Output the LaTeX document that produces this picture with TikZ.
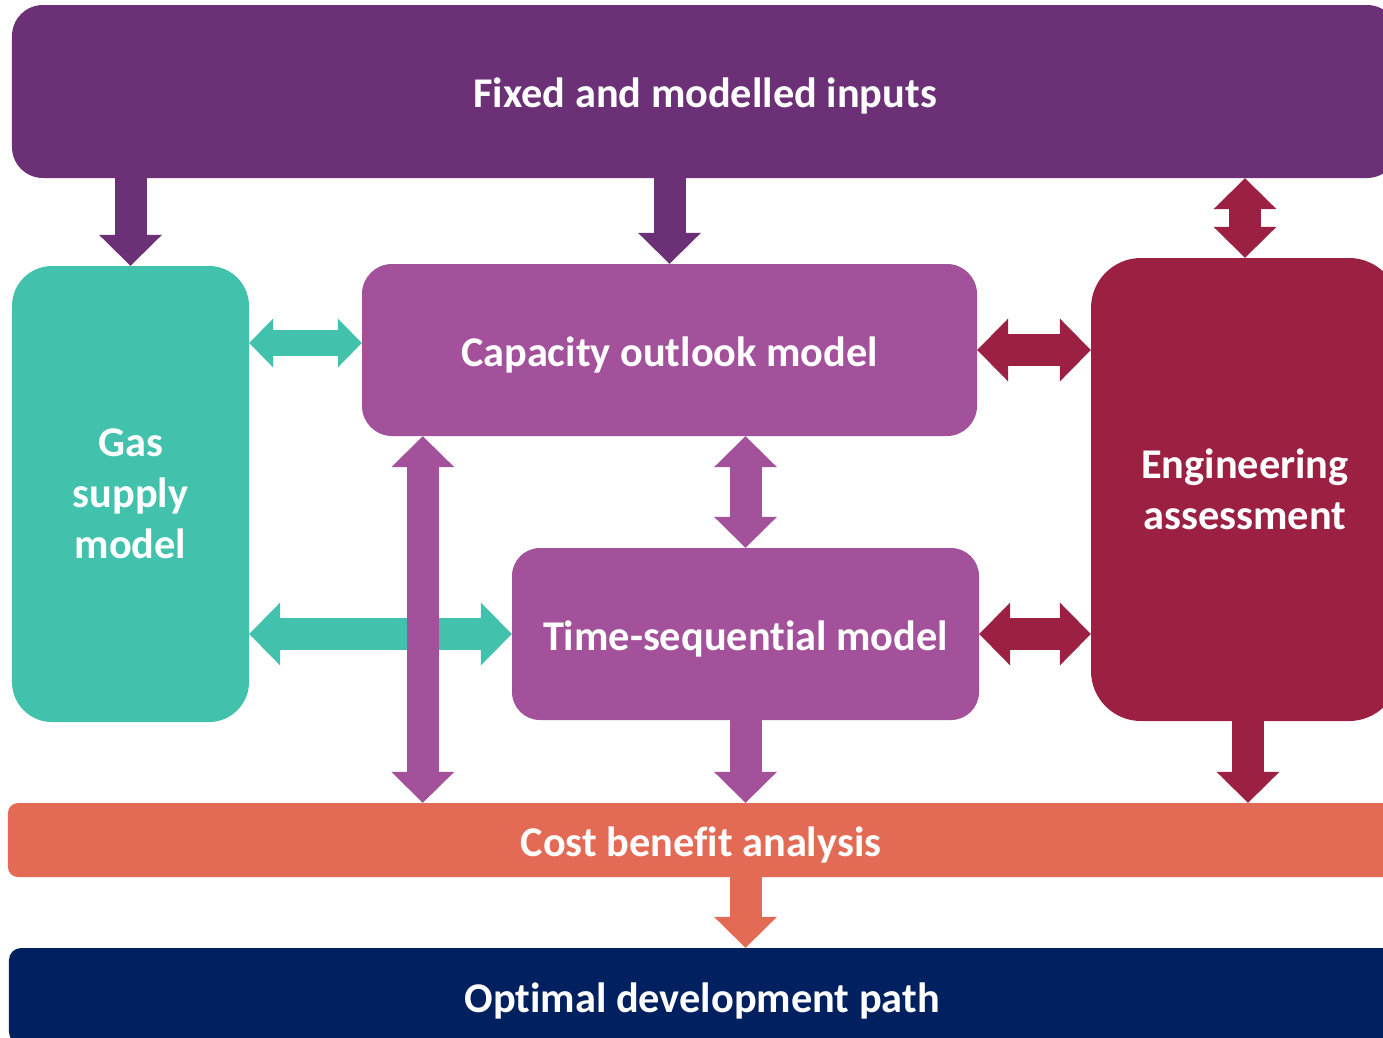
\documentclass[tikz,border=0pt]{standalone}
\usepackage{fontspec}
\setmainfont{Carlito}[Ligatures=CommonOff,Contextuals=AlternateOff]
\usetikzlibrary{arrows.meta}

\definecolor{inputpurple}{RGB}{107,48,118}
\definecolor{modelpurple}{RGB}{163,81,154}
\definecolor{gasteal}{RGB}{66,194,172}
\definecolor{engred}{RGB}{155,32,66}
\definecolor{cbaorange}{RGB}{227,106,84}
\definecolor{optnavy}{RGB}{0,32,96}

\begin{document}
\begin{tikzpicture}[x=1bp,y=-1bp,
		block/.style={rectangle,inner sep=0pt,text=white,align=center,font=\bfseries\fontsize{42.5}{51}\selectfont},
		oneline/.style={text height=40bp,text depth=8bp},
		fat/.style={line width=32bp,-{Triangle[length=31bp,width=63bp,line width=0pt]}},
		fatboth/.style={line width=32bp,{Triangle[length=31bp,width=63bp,line width=0pt]}-{Triangle[length=31bp,width=63bp,line width=0pt]}},
		slimboth/.style={line width=26bp,{Triangle[length=24bp,width=49bp,line width=0pt]}-{Triangle[length=24bp,width=49bp,line width=0pt]}}]
			\clip (0,0) rectangle (1383,1037);
			%\draw[step=100,gray,very thin] (0,0) grid (1383,1037);
			
			\node[block,oneline,fill=inputpurple,rounded corners=31bp,minimum width=1386bp,minimum height=173bp] (inputs) at (705,91.5) {Fixed and modelled inputs};
			\node[block,fill=gasteal,rounded corners=40bp,minimum width=237bp,minimum height=456bp] (gas) at (130.5,494) {Gas\\supply\\model};
			\node[block,oneline,fill=modelpurple,rounded corners=30bp,minimum width=615bp,minimum height=172bp] (cap) at (669.5,350) {Capacity outlook model};
			\node[block,oneline,fill=modelpurple,rounded corners=28bp,minimum width=467bp,minimum height=172bp] (time) at (745.5,634) {Time-sequential model};
			\node[block,fill=engred,rounded corners=50bp,minimum width=308bp,minimum height=463bp] (eng) at (1245,489.5) {Engineering\\assessment};
			\node[block,oneline,fill=cbaorange,rounded corners=10bp,minimum width=1386bp,minimum height=74bp] (cba) at (701,840) {Cost benefit analysis};
			\node[block,oneline,fill=optnavy,rounded corners=12bp,minimum width=1386bp,minimum height=96bp] (opt) at (702,996) {Optimal development path};
			
			\coordinate (capleft) at ([yshift=7bp]cap.west);
			\coordinate (capfoot) at ([xshift=61bp]cap.south west);
			\coordinate (engfoot) at ([xshift=3bp]eng.south);
			
			% inputs
			\draw[fat,inputpurple] (gas.north |- inputs.south) -- (gas.north);
			\draw[fat,inputpurple] (cap.north |- inputs.south) -- (cap.north);
			\draw[fatboth,engred] (eng.north |- inputs.south) -- (eng.north);
			
			% models
			\draw[slimboth,gasteal] (gas.east |- capleft) -- (capleft);
			\draw[fatboth,gasteal] (gas.east |- time.west) -- (time.west);
			\draw[fatboth,modelpurple] (capfoot) -- (capfoot |- cba.north);
			\draw[fatboth,modelpurple] (time.north |- cap.south) -- (time.north);
			\draw[fatboth,engred] (cap.east) -- (eng.west |- cap.east);
			\draw[fatboth,engred] (time.east) -- (eng.west |- time.east);
			
			% results
			\draw[fat,modelpurple] (time.south) -- (time.south |- cba.north);
			\draw[fat,engred] (engfoot) -- (engfoot |- cba.north);
			\draw[fat,cbaorange] (time.south |- cba.south) -- (time.south |- opt.north);
		\end{tikzpicture}
\end{document}
